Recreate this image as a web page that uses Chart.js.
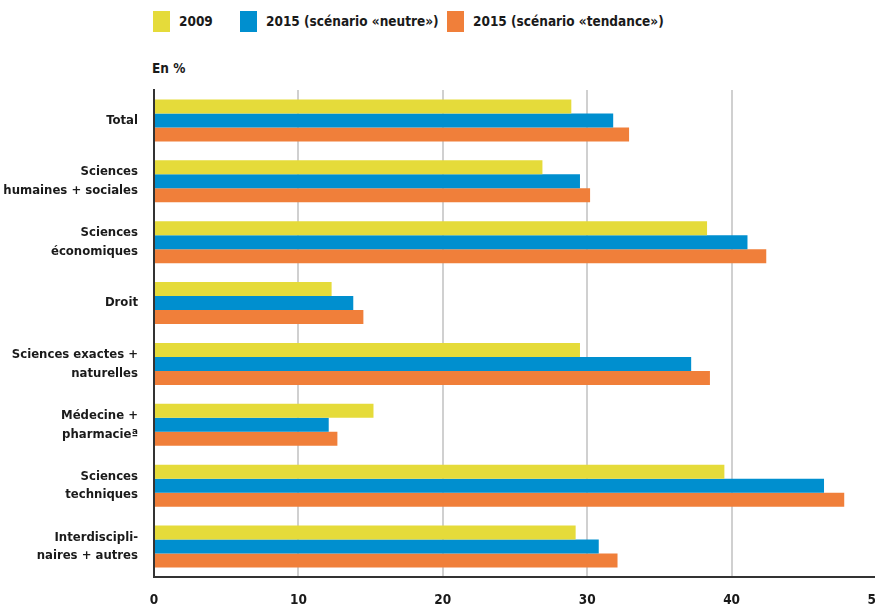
<!DOCTYPE html>
<html>
<head>
<meta charset="utf-8">
<script src="https://cdn.jsdelivr.net/npm/chart.js@4/dist/chart.umd.min.js"></script>
<style>
  html, body { margin: 0; padding: 0; background: #fff; overflow: hidden; }
  body { width: 875px; height: 605px; position: relative; font-family: "DejaVu Sans Condensed", "Liberation Sans Narrow", sans-serif; color: #1a1a1a; }
  #wrap { position: absolute; left: 0; top: 0; width: 900px; height: 605px; }
  .legend { position: absolute; top: 11px; font-weight: bold; font-size: 13.5px; line-height: 21px; }
  .legend span.box { display: inline-block; width: 17px; height: 21px; vertical-align: top; margin-right: 9px; }
  #unit { position: absolute; left: 152px; top: 60px; font-weight: bold; font-size: 13.5px; }
</style>
</head>
<body>
<div class="legend" style="left:153px"><span class="box" style="background:#E5DB3A"></span>2009</div>
<div class="legend" style="left:240px"><span class="box" style="background:#008FCF"></span>2015 (scénario «neutre»)</div>
<div class="legend" style="left:447px"><span class="box" style="background:#F07F3A"></span>2015 (scénario «tendance»)</div>
<div id="unit">En %</div>
<div id="wrap"><canvas id="chart"></canvas></div>
<script>
const categories = [
  ['Total'],
  ['Sciences', 'humaines + sociales'],
  ['Sciences', 'économiques'],
  ['Droit'],
  ['Sciences exactes +', 'naturelles'],
  ['Médecine +', 'pharmacieª'],
  ['Sciences', 'techniques'],
  ['Interdiscipli-', 'naires + autres']
];
const values2009 = [28.9, 26.9, 38.3, 12.3, 29.5, 15.2, 39.5, 29.2];
const valuesNeutre = [31.8, 29.5, 41.1, 13.8, 37.2, 12.1, 46.4, 30.8];
const valuesTendance = [32.9, 30.2, 42.4, 14.5, 38.5, 12.7, 47.8, 32.1];
const xTicks = [0, 10, 20, 30, 40, 50];

const family = '"DejaVu Sans Condensed", "Liberation Sans Narrow", sans-serif';

const ctx = document.getElementById('chart').getContext('2d');
new Chart(ctx, {
  type: 'bar',
  data: {
    labels: categories,
    datasets: [
      { label: '2009', data: values2009, backgroundColor: '#E5DB3A' },
      { label: '2015 (scénario «neutre»)', data: valuesNeutre, backgroundColor: '#008FCF' },
      { label: '2015 (scénario «tendance»)', data: valuesTendance, backgroundColor: '#F07F3A' }
    ]
  },
  options: {
    indexAxis: 'y',
    responsive: true,
    maintainAspectRatio: false,
    animation: false,
    layout: { padding: { top: 90, right: 24, left: 0, bottom: 0 } },
    datasets: { bar: { barPercentage: 1, categoryPercentage: 0.69 } },
    plugins: { legend: { display: false }, tooltip: { enabled: false } },
    scales: {
      x: {
        min: 0,
        max: 50,
        afterBuildTicks: (scale) => { scale.ticks = xTicks.map(v => ({ value: v })); },
        afterFit: (scale) => { scale.height = 28; },
        grid: { color: '#d0d0d0', lineWidth: 2, drawTicks: false },
        border: { color: '#333', width: 2 },
        ticks: { color: '#1a1a1a', font: { family: family, weight: 'bold', size: 13.5 }, padding: 15 }
      },
      y: {
        afterFit: (scale) => { scale.width = 154; },
        grid: { display: false, drawTicks: false },
        border: { color: '#333', width: 2 },
        ticks: { color: '#1a1a1a', font: { family: family, weight: 'bold', size: 13, lineHeight: 1.45 }, padding: 16 }
      }
    }
  }
});
</script>
</body>
</html>
